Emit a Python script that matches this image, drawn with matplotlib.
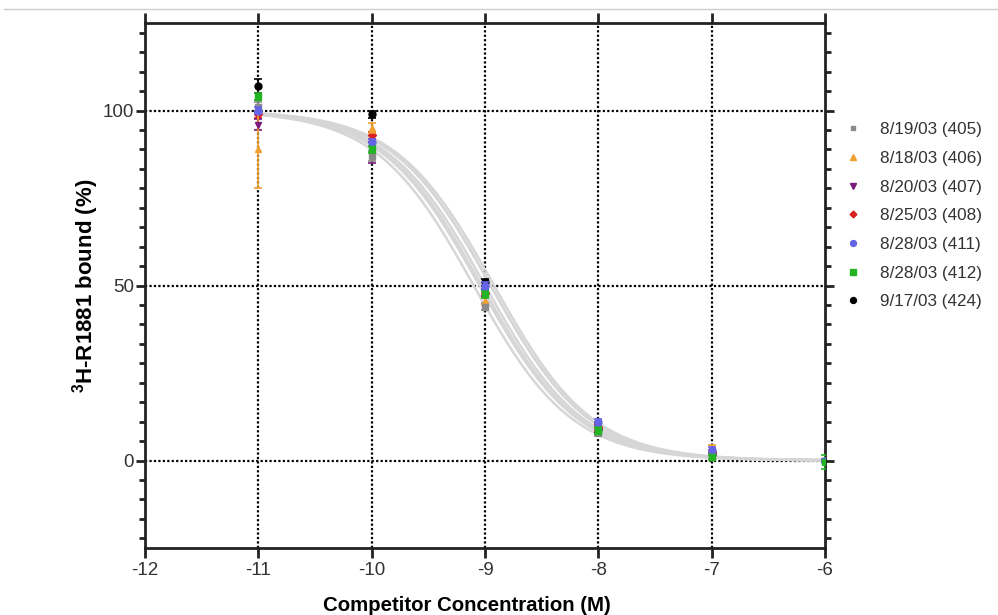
import numpy as np
import matplotlib
matplotlib.use("Agg")
import matplotlib.pyplot as plt
from matplotlib.ticker import MultipleLocator, FixedLocator

plt.rcParams['font.family'] = ['Liberation Sans', 'DejaVu Sans']
plt.rcParams['axes.unicode_minus'] = False

# concentrations (log M)
log_conc = [-11, -10, -9, -8, -7, -6]

# series labels
labels = ['8/19/03 (405)', '8/18/03 (406)', '8/20/03 (407)', '8/25/03 (408)',
          '8/28/03 (411)', '8/28/03 (412)', '9/17/03 (424)']

# % bound per series
y405 = [101, 87, 44, 8, 1, 0]
y406 = [89, 95, 45.5, 8.5, 3.5, 0]
y407 = [96, 88, 48, 10, 2, 0]
y408 = [99, 93, 48, 9.5, 2.5, 0]
y411 = [100, 91, 50, 11, 3, 0]
y412 = [104, 89, 47.5, 8.5, 1, -0.5]
y424 = [107, 99, 51, 9, 2, 0]

# error bars
e405 = [1.5, 1.5, 1.0, 1.0, 0.5, 0.5]
e406 = [11, 1.5, 1.0, 1.0, 0.8, 0.5]
e407 = [1.5, 3.0, 1.0, 1.0, 0.5, 0.5]
e408 = [1.0, 1.0, 1.0, 1.0, 0.5, 0.5]
e411 = [1.0, 1.0, 1.0, 1.0, 0.8, 0.5]
e412 = [1.0, 1.0, 1.0, 1.0, 0.8, 2.0]
e424 = [2.0, 1.0, 1.0, 1.0, 0.5, 0.5]

# fitted logIC50 per run (one-site competition, top 100, bottom 0)
log_ic50 = [-9.10, -9.05, -8.95, -9.00, -8.95, -9.03, -8.92]

values = [y405, y406, y407, y408, y411, y412, y424]
errors = [e405, e406, e407, e408, e411, e412, e424]
colors = ['#8a8a8a', '#f0a030', '#7a1a7a', '#d82020', '#6464e6', '#22b422', '#000000']
markers = ['s', '^', 'v', 'D', 'o', 's', 'o']
msizes = [4, 5, 5, 4, 5, 5, 5]
zorders = [3.6, 3.5, 3.4, 3.3, 3.7, 3.8, 3.1]

fig = plt.figure(figsize=(9.98, 6.15), dpi=100)
ax = fig.add_axes([0.1453, 0.1089, 0.6814, 0.8537])

# dotted grid
for gx in [-11, -10, -9, -8, -7]:
    ax.axvline(gx, color='black', lw=1.6, ls=(0, (1, 1)), zorder=1)
for gy in [0, 50, 100]:
    ax.axhline(gy, color='black', lw=1.6, ls=(0, (1, 1)), zorder=1)

# fitted curves
xf = np.linspace(-11, -6, 300)
for li in log_ic50:
    yf = 100 / (1 + 10 ** (xf - li))
    ax.plot(xf, yf, color='#d6d6d6', lw=1.8, zorder=2)

# data points
handles = []
for v, e, c, m, ms, z, lab in zip(values, errors, colors, markers, msizes, zorders, labels):
    eb = ax.errorbar(log_conc, v, yerr=e, fmt=m, color=c, ms=ms, mec=c,
                     elinewidth=1.2, capsize=3, capthick=1.2, zorder=z, label=lab)
    handles.append(eb)

ax.set_xlim(-12, -6)
ax.set_ylim(-25, 125)
ax.xaxis.set_major_locator(MultipleLocator(1))
ax.yaxis.set_major_locator(FixedLocator([0, 50, 100]))
ax.yaxis.set_minor_locator(MultipleLocator(50 / 9))

for sp in ax.spines.values():
    sp.set_linewidth(2)
    sp.set_color('#222222')

ax.tick_params(axis='x', which='major', direction='out', length=7, width=2, pad=3,
               top=True, bottom=True, labelsize=13.5, labelcolor='#333333', color='#222222')
ax.tick_params(axis='y', which='both', direction='out', width=2, pad=1.5,
               left=True, right=True, labelsize=13.5, labelcolor='#333333', color='#222222')
ax.tick_params(axis='y', which='major', length=6.5)
ax.tick_params(axis='y', which='minor', length=4.3)

ax.set_xlabel('Competitor Concentration (M)', fontsize=14.7, fontweight='bold')
ax.xaxis.set_label_coords(0.4735, -0.091)
ax.set_ylabel(r'$^{\mathregular{3}}$H-R1881 bound (%)', fontsize=16, fontweight='bold')
ax.yaxis.set_label_coords(-0.065, 0.5)

leg = fig.legend(handles=[h[0] for h in handles], labels=labels, loc='upper left',
                 bbox_to_anchor=(0.829, 0.826), frameon=False, fontsize=12.3,
                 handlelength=1.2, handletextpad=1.0, labelspacing=0.8, markerscale=0.85)
for t in leg.get_texts():
    t.set_color('#333333')

# thin frame line at top of the image
fig.add_artist(plt.Line2D([0.004, 1.0], [0.985, 0.985], color='#cccccc', lw=1))

fig.savefig('out.png', dpi=100)
